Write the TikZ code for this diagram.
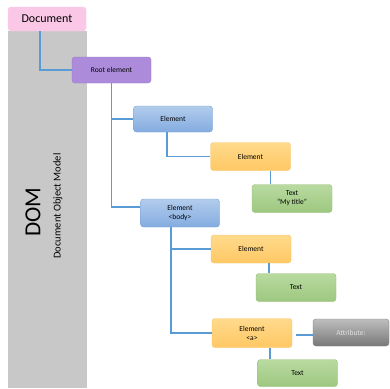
\documentclass[tikz,border=0pt]{standalone}
\usepackage{fontspec}
\setmainfont{Carlito}
\usepackage{tikz}
\usetikzlibrary{positioning, arrows.meta}
\definecolor{linkblue}{RGB}{91,155,213}
\definecolor{barfill}{RGB}{200,200,200}
\tikzset{
  box/.style      = {rectangle, rounded corners=3pt, draw, line width=0.4pt, font=\fontsize{7.5}{9}\selectfont, align=center, inner sep=0pt},
  docbox/.style   = {box, fill={rgb,255:red,250;green,200;blue,230}, draw={rgb,255:red,250;green,200;blue,230}, minimum width=78pt, minimum height=24pt, font=\fontsize{12}{14}\selectfont},
  rootbox/.style  = {box, fill={rgb,255:red,172;green,140;blue,218}, draw={rgb,255:red,150;green,120;blue,200}, minimum width=79pt, minimum height=26pt},
  bluebox/.style  = {box, top color={rgb,255:red,178;green,204;blue,236}, bottom color={rgb,255:red,132;green,172;blue,224}, draw={rgb,255:red,120;green,160;blue,210}, minimum width=79pt, minimum height=26pt},
  orangebox/.style= {box, top color={rgb,255:red,255;green,218;blue,140}, bottom color={rgb,255:red,255;green,200;blue,100}, draw={rgb,255:red,245;green,196;blue,110}, minimum width=80pt, minimum height=28pt},
  greenbox/.style = {box, top color={rgb,255:red,184;green,218;blue,160}, bottom color={rgb,255:red,158;green,200;blue,128}, draw={rgb,255:red,150;green,190;blue,120}, minimum width=80pt, minimum height=28pt},
  attrbox/.style  = {box, top color={rgb,255:red,190;green,190;blue,190}, bottom color={rgb,255:red,120;green,120;blue,120}, draw={rgb,255:red,130;green,130;blue,130}, text={rgb,255:red,225;green,225;blue,225}, minimum width=76pt, minimum height=27pt},
  link/.style     = {draw=linkblue, line width=1.1pt}
}
\begin{document}
\begin{tikzpicture}[x=1pt, y=-1pt]
  \useasboundingbox (0,0) rectangle (390,388);
  % side bar
  \fill[barfill] (8,31) rectangle (87,388);
  \node[rotate=90, font=\fontsize{23}{26}\selectfont] (dom) at (33,212) {DOM};
  \node[rotate=90, font=\fontsize{10.5}{12}\selectfont] (domlong) at (58,206) {Document Object Model};
  % nodes
  \node[docbox]    (doc)  at (47,19)      {Document};
  \node[rootbox]   (root) at (111.5,70)   {Root element};
  \node[bluebox]   (el1)  at (173,119)    {Element};
  \node[orangebox] (el2)  at (250.5,156.5){Element};
  \node[greenbox]  (txt1) at (292,198.5)  {Text\\``My title''};
  \node[bluebox, minimum height=28pt] (body) at (180,213) {Element\\\textless body\textgreater};
  \node[orangebox] (el3)  at (251,249)    {Element};
  \node[greenbox]  (txt2) at (296,287.5)  {Text};
  \node[orangebox, minimum height=29pt] (ela) at (252,333) {Element\\\textless a\textgreater};
  \node[attrbox]   (attr) at (351,332.5)  {Attribute:};
  \node[greenbox, minimum height=27pt] (txt3) at (297.5,373) {Text};
  % links
  \draw[link] ([xshift=-7pt]doc.south) |- (root.west);
  \draw[link] (root.south) |- (el1.west);
  \draw[link] (root.south) |- ([yshift=6pt]body.west);
  \draw[link] ([xshift=-6pt]el1.south) |- (el2.west);
  \draw[link] ([xshift=20pt]el2.south) -- ([xshift=20pt]el2.south |- txt1.north);
  \draw[link] ([xshift=-9pt]body.south) |- (el3.west);
  \draw[link] ([xshift=-9pt]body.south) |- (ela.west);
  \draw[link] ([xshift=18pt]el3.south) -- ([xshift=18pt]el3.south |- txt2.north);
  \draw[link] ([xshift=18pt]ela.south) -- ([xshift=18pt]ela.south |- txt3.north);
  \draw[link, shorten <=4pt] ([yshift=-2pt]ela.east) -- ([yshift=-2pt]ela.east -| attr.west);
\end{tikzpicture}
\end{document}
